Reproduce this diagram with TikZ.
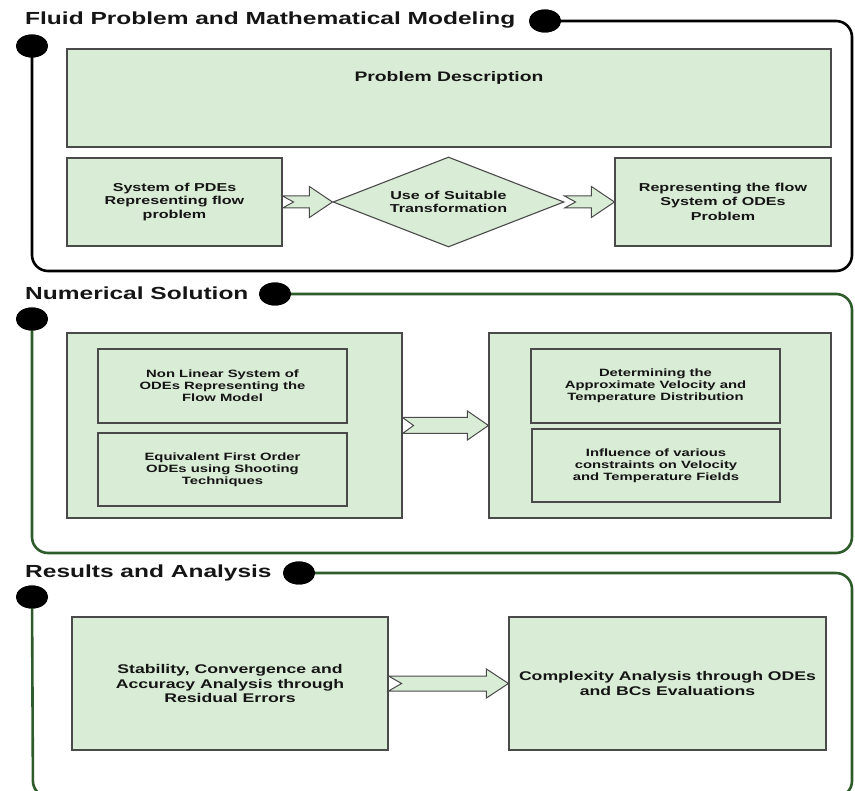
\documentclass[tikz,border=0pt]{standalone}
\usepackage{fontspec}
\setmainfont{Liberation Sans}[FakeStretch=1.4]
\usetikzlibrary{shapes.geometric,calc}
\definecolor{boxfill}{HTML}{D9ECD5}
\definecolor{boxline}{HTML}{4A4A4A}
\definecolor{framegreen}{HTML}{2E5B2A}
\definecolor{txt}{HTML}{151515}
\newcommand{\blockarrow}[6]{%
  \draw[barrow] let \p1=(#1), \p2=(#2) in
    (\x1,\y1+#3) -- (\x2-#5,\y1+#3) -- (\x2-#5,\y1+#4) -- (\x2,\y1)
    -- (\x2-#5,\y1-#4) -- (\x2-#5,\y1-#3) -- (\x1,\y1-#3) -- (\x1+#6,\y1) -- cycle;}
\tikzset{
  box/.style={draw=boxline, fill=boxfill, line width=1.1pt, inner sep=2pt, align=center, text=txt},
  fonta/.style={font=\fontsize{11.5}{13.5}\selectfont\bfseries},
  fontb/.style={font=\fontsize{10.6}{11.8}\selectfont\bfseries},
  fontc/.style={font=\fontsize{12.6}{14.5}\selectfont\bfseries},
  titletext/.style={font=\fontsize{17.5}{20}\selectfont\bfseries, text=txt, inner sep=0pt, anchor=base west},
  dot/.style={ellipse, fill=black, minimum width=32pt, minimum height=23pt, inner sep=0pt},
  frameblack/.style={draw=black, line width=2.6pt, rounded corners=16pt},
  framegrn/.style={draw=framegreen, line width=2.6pt, rounded corners=16pt},
  barrow/.style={draw=boxline, fill=boxfill, line width=1pt, line join=miter},
}
\begin{document}
\begin{tikzpicture}[x=1pt, y=-1pt]
\useasboundingbox[fill=white] (0,0) rectangle (855,791);

% ---------- Section 1 ----------
\node[titletext] (title1) at (25,25) {Fluid Problem and Mathematical Modeling};
\node[dot] (t1) at (545,21) {};
\node[dot] (l1) at (32,46) {};
\draw[frameblack] (t1.center) -- (852,21) -- (852,271) -- (32,271) -- (l1.center);
\node[dot] at (t1.center) {};
\node[dot] at (l1.center) {};

\node[box, minimum width=764pt, minimum height=98pt] (pd) at (449,98) {};
\node[fontc, text=txt, font=\fontsize{13.8}{16}\selectfont\bfseries] (pdt) at (449,78) {Problem Description};

\node[box, fonta, minimum width=215pt, minimum height=88pt] (pde) at (174.5,202)
  {System of PDEs\\Representing flow\\problem};
\node[box, fonta, diamond, aspect=2.5, minimum width=231pt, minimum height=90pt, inner sep=0pt] (dia) at (448.5,202)
  {Use of Suitable\\Transformation};
\node[box, fonta, minimum width=216pt, minimum height=88pt] (rep) at (723,202)
  {Representing the flow\\System of ODEs\\[2pt]Problem};
\blockarrow{pde.east}{dia.west}{6pt}{15.5pt}{23pt}{11pt}
\blockarrow{dia.east}{rep.west}{6pt}{15.5pt}{23pt}{11pt}

% ---------- Section 2 ----------
\node[titletext] (title2) at (25,300) {Numerical Solution};
\node[dot] (t2) at (275,294) {};
\node[dot] (l2) at (32,319) {};
\draw[framegrn] (t2.center) -- (852,294) -- (852,553) -- (32,553) -- (l2.center);
\node[dot] at (t2.center) {};
\node[dot] at (l2.center) {};

\node[box, minimum width=335pt, minimum height=185pt] (ol) at (234.5,425.5) {};
\node[box, fontb, minimum width=249pt, minimum height=74pt] (n1) at (222.5,386)
  {Non Linear System of\\ODEs Representing the\\Flow Model};
\node[box, fontb, minimum width=249pt, minimum height=73pt] (n2) at (222.5,469.5)
  {Equivalent First Order\\ODEs using Shooting\\Techniques};
\node[box, minimum width=342pt, minimum height=185pt] (or) at (660,425.5) {};
\node[box, fontb, minimum width=249pt, minimum height=74pt] (r1) at (655.5,386)
  {Determining the\\Approximate Velocity and\\Temperature Distribution};
\node[box, fontb, minimum width=248pt, minimum height=73pt] (r2) at (656,465.5)
  {Influence of various\\constraints on Velocity\\and Temperature Fields};
\blockarrow{ol.east}{or.west}{8pt}{14.5pt}{21pt}{11pt}

% ---------- Section 3 ----------
\node[titletext] (title3) at (25,578) {Results and Analysis};
\node[dot] (t3) at (299,573) {};
\node[dot] (l3) at (32,597) {};
\draw[framegrn] (t3.center) -- (852,573) -- (852,797) -- (33,797) -- (l3.center);
\node[dot] at (t3.center) {};
\node[dot] at (l3.center) {};

\node[box, fontc, minimum width=316pt, minimum height=133pt] (sl) at (230,683.5)
  {Stability, Convergence and\\Accuracy Analysis through\\Residual Errors};
\node[box, fontc, minimum width=317pt, minimum height=133pt] (sr) at (667.5,683.5)
  {Complexity Analysis through ODEs\\and BCs Evaluations};
\blockarrow{sl.east}{sr.west}{7.5pt}{14.5pt}{22pt}{13pt}
\end{tikzpicture}
\end{document}
